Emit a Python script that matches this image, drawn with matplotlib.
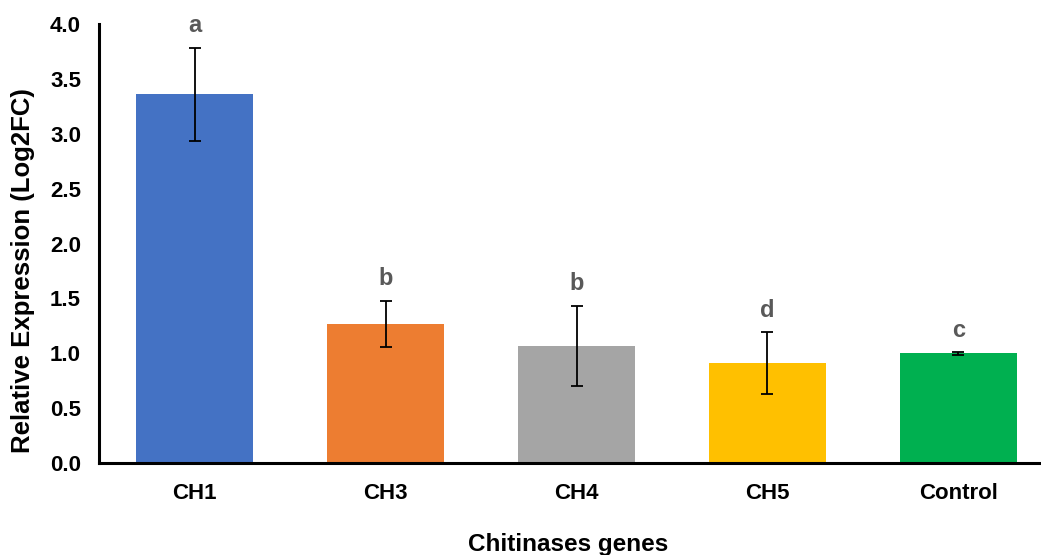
import matplotlib
matplotlib.use("Agg")
import matplotlib.pyplot as plt
import numpy as np

plt.rcParams['font.family'] = ['Liberation Sans', 'DejaVu Sans']
plt.rcParams['font.weight'] = 'bold'

categories = ["CH1", "CH3", "CH4", "CH5", "Control"]
values = [3.36, 1.27, 1.07, 0.91, 1.00]
errors = [0.425, 0.21, 0.365, 0.28, 0.012]
letters = ["a", "b", "b", "d", "c"]
colors = ["#4472C4", "#ED7D31", "#A5A5A5", "#FFC000", "#00B050"]
yticks = [0.0, 0.5, 1.0, 1.5, 2.0, 2.5, 3.0, 3.5, 4.0]

W, H = 1041, 555
fig = plt.figure(figsize=(W / 100, H / 100), dpi=100)
ax_left, ax_bottom_px, ax_top_px = 99, 463, 24
ax = fig.add_axes([ax_left / W, (H - ax_bottom_px) / H, (W - ax_left) / W, (ax_bottom_px - ax_top_px) / H])

x = np.arange(len(categories))
ax.bar(x, values, width=0.61, color=colors, zorder=2)
ax.errorbar(x, values, yerr=errors, fmt='none', ecolor='black', elinewidth=1.3,
            capsize=4.5, capthick=1.3, zorder=3)

for xi, v, e, lab in zip(x, values, errors, letters):
    ax.annotate(lab, (xi, v + e), xytext=(0, 11), textcoords='offset points',
                ha='center', va='baseline', fontsize=17, fontweight='bold',
                color='#595959', annotation_clip=False)

cat_w = 191
ax.set_xlim(-0.5, -0.5 + (W - ax_left) / cat_w)
ax.set_ylim(0, 4.0)
ax.set_xticks(x)
ax.set_xticklabels(categories, fontsize=16, fontweight='bold')
ax.set_yticks(yticks)
ax.set_yticklabels([f"{t:.1f}" for t in yticks], fontsize=16, fontweight='bold')
ax.tick_params(axis='both', length=0)
ax.tick_params(axis='y', pad=13)
ax.tick_params(axis='x', pad=14.5)

for s in ['top', 'right']:
    ax.spines[s].set_visible(False)
for s in ['left', 'bottom']:
    ax.spines[s].set_linewidth(2.2)
    ax.spines[s].set_color('black')

fig.text(568 / W, 1 - 551 / H, "Chitinases genes", ha='center', va='baseline',
         fontsize=17.5, fontweight='bold')
fig.text(23 / W, 1 - 271 / H, "Relative Expression (Log2FC)", ha='center', va='center',
         rotation=90, fontsize=18.5, fontweight='bold')

fig.savefig("out.png", dpi=100)
